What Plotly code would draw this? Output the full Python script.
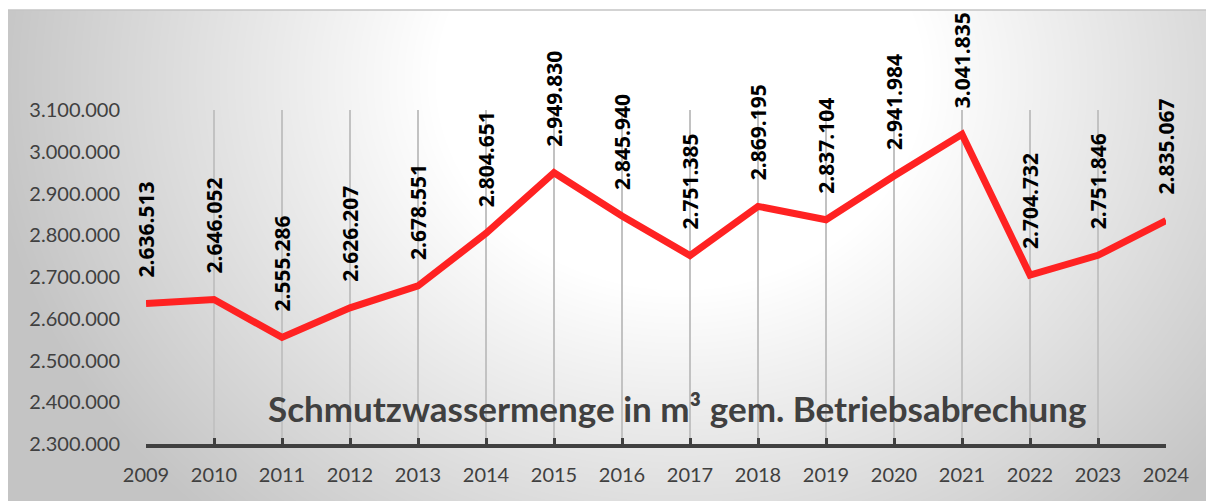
import base64
import struct
import zlib

import numpy as np
import plotly.graph_objects as go

# ---------------- data ----------------
years = [2009, 2010, 2011, 2012, 2013, 2014, 2015, 2016,
         2017, 2018, 2019, 2020, 2021, 2022, 2023, 2024]
volumes = [2636513, 2646052, 2555286, 2626207, 2678551, 2804651, 2949830, 2845940,
           2751385, 2869195, 2837104, 2941984, 3041835, 2704732, 2751846, 2835067]
y_ticks = [2300000, 2400000, 2500000, 2600000, 2700000, 2800000, 2900000, 3000000, 3100000]
title_text = "Schmutzwassermenge in m³ gem. Betriebsabrechung"

# ---------------- geometry / style ----------------
# the page body has an 8px margin, so the figure starts at page pixel (8, 8)
OFF = 8
W, H = 1214 - OFF, 501 - OFF
ML, MR, MT, MB = 146 - OFF, 48, 110 - OFF, 57
PW, PH = W - ML - MR, H - MT - MB
BG_X0, BG_Y0 = 0, 2           # top-left of the grey framed background (figure pixels)
TEXT_GREY = "#404040"
FONT = "Lato"


def gradient_png():
    bw, bh = W - BG_X0, H - BG_Y0
    px = np.arange(bw)[None, :] + BG_X0 + OFF
    py = np.arange(bh)[:, None] + BG_Y0 + OFF
    cx, cy, rx, ry = 680.0, 80.0, 700.0, 600.0
    t = np.sqrt(((px - cx) / rx) ** 2 + ((py - cy) / ry) ** 2)
    f = np.clip((t - 0.35) / 0.65, 0, 1)
    img = (255 - 59 * f).astype(np.uint8)
    raw = b"".join(b"\x00" + img[r].tobytes() for r in range(bh))

    def chunk(tag, data):
        c = struct.pack(">I", len(data)) + tag + data
        return c + struct.pack(">I", zlib.crc32(tag + data) & 0xFFFFFFFF)

    png = b"\x89PNG\r\n\x1a\n"
    png += chunk(b"IHDR", struct.pack(">IIBBBBB", bw, bh, 8, 0, 0, 0, 0))
    png += chunk(b"IDAT", zlib.compress(raw, 9))
    png += chunk(b"IEND", b"")
    return "data:image/png;base64," + base64.b64encode(png).decode()


def de(v):
    return f"{v:,}".replace(",", ".")


fig = go.Figure()
fig.add_trace(go.Scatter(
    x=years, y=volumes, mode="lines",
    line=dict(color="#ff2222", width=7),
    hoverinfo="skip", showlegend=False,
))

annotations = []
for yr, v in zip(years, volumes):
    annotations.append(dict(
        x=yr, y=v, xref="x", yref="y", text=de(v), textangle=-90,
        showarrow=False, xanchor="center", yanchor="bottom", yshift=24,
        font=dict(family="Open Sans", size=21, color="#000000", weight="bold"),
    ))
annotations.append(dict(
    x=(676.5 - OFF - ML) / PW, y=(H - MB - (408 - OFF)) / PH, xref="paper", yref="paper",
    text=title_text, showarrow=False, xanchor="center", yanchor="middle",
    font=dict(family=FONT, size=35, color=TEXT_GREY, weight="bold"),
))

fig.update_layout(
    width=W, height=H,
    margin=dict(l=ML, r=MR, t=MT, b=MB, pad=0),
    paper_bgcolor="#ffffff", plot_bgcolor="rgba(0,0,0,0)",
    separators=",.",
    showlegend=False,
    annotations=annotations,
    images=[dict(
        source=gradient_png(), xref="paper", yref="paper",
        x=(BG_X0 - ML) / PW, y=(H - MB - BG_Y0) / PH,
        sizex=(W - BG_X0) / PW, sizey=(H - BG_Y0) / PH,
        xanchor="left", yanchor="top", sizing="stretch", layer="below",
    )],
    shapes=[dict(
        type="line", xref="paper", yref="paper",
        x0=(BG_X0 - ML) / PW, x1=(W - ML) / PW,
        y0=(H - MB - BG_Y0) / PH, y1=(H - MB - BG_Y0) / PH,
        line=dict(color="#c4c4c4", width=1.5), layer="below",
    )],
    xaxis=dict(
        range=[years[0], years[-1]], tickvals=years, tickformat="d",
        showgrid=True, gridcolor="#c2c2c2", gridwidth=1.5,
        showline=True, linecolor=TEXT_GREY, linewidth=3.5,
        ticks="inside", ticklen=6, tickwidth=3, tickcolor=TEXT_GREY,
        ticklabelstandoff=10,
        tickfont=dict(family=FONT, size=20, color=TEXT_GREY),
        zeroline=False, fixedrange=True,
    ),
    yaxis=dict(
        range=[y_ticks[0], y_ticks[-1]], tickvals=y_ticks, tickformat=",d",
        showgrid=False, showline=False, zeroline=False, ticks="",
        ticklabelstandoff=25,
        tickfont=dict(family=FONT, size=20, color=TEXT_GREY),
        fixedrange=True,
    ),
)

fig.write_html("out.html")
